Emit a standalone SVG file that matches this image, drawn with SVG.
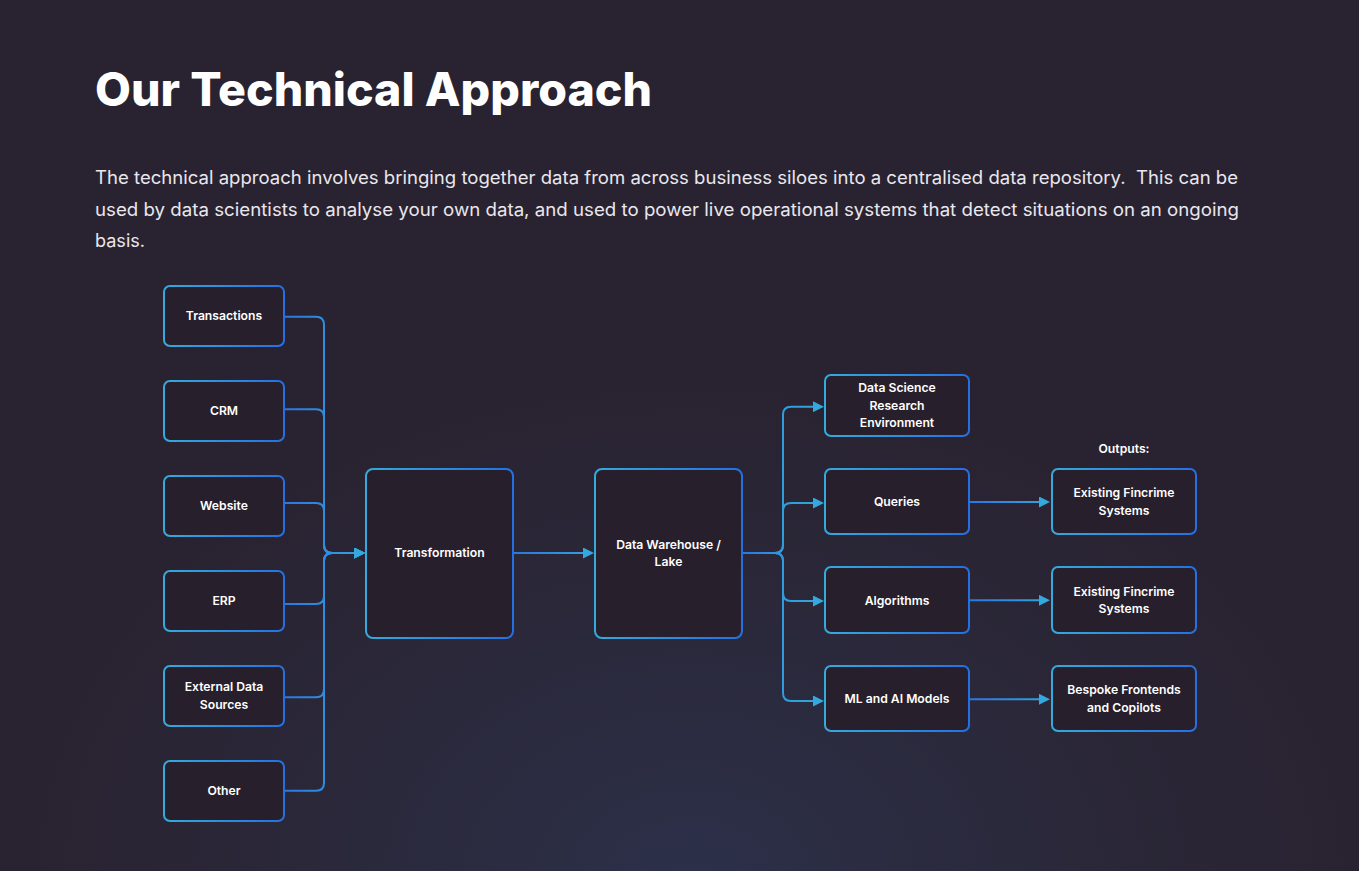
<svg xmlns="http://www.w3.org/2000/svg" width="1359" height="871" viewBox="0 0 1359 871">
<style>
.node rect{fill:#271f2c;stroke:url(#boxStroke);stroke-width:2}
.lbl{font-family:Inter,"Noto Sans","Liberation Sans",sans-serif;font-weight:600;font-size:12.2px;fill:#ffffff;text-anchor:middle}
.title{font-family:Inter,"Noto Sans","Liberation Sans",sans-serif;font-weight:800;font-size:46px;fill:#ffffff}
.para{font-family:Inter,"Noto Sans","Liberation Sans",sans-serif;font-weight:400;font-size:18px;fill:#e9e7ed;white-space:pre}
.conn path{fill:none;stroke-width:2;marker-end:url(#arrow)}
</style>
<defs>
<radialGradient id="bg" cx="690" cy="880" r="700" gradientUnits="userSpaceOnUse" gradientTransform="translate(690 880) scale(1 0.75) translate(-690 -880)">
<stop offset="0" stop-color="#2c3049"/>
<stop offset="0.6" stop-color="#2a2738"/>
<stop offset="1" stop-color="#292230"/>
</radialGradient>
<linearGradient id="boxStroke" x1="0" y1="0" x2="1" y2="0">
<stop offset="0" stop-color="#35aadc"/>
<stop offset="0.35" stop-color="#2f96dc"/>
<stop offset="1" stop-color="#2470e3"/>
</linearGradient>
<linearGradient id="gL" gradientUnits="userSpaceOnUse" x1="284" y1="0" x2="365" y2="0">
<stop offset="0" stop-color="#2a77e1"/><stop offset="1" stop-color="#33a4dc"/>
</linearGradient>
<linearGradient id="gM" gradientUnits="userSpaceOnUse" x1="513" y1="0" x2="595" y2="0">
<stop offset="0" stop-color="#2a77e1"/><stop offset="1" stop-color="#33a4dc"/>
</linearGradient>
<linearGradient id="gR" gradientUnits="userSpaceOnUse" x1="742" y1="0" x2="825" y2="0">
<stop offset="0" stop-color="#2a77e1"/><stop offset="0.5" stop-color="#309cdd"/><stop offset="1" stop-color="#33a6dc"/>
</linearGradient>
<linearGradient id="gO" gradientUnits="userSpaceOnUse" x1="969" y1="0" x2="1052" y2="0">
<stop offset="0" stop-color="#2a77e1"/><stop offset="1" stop-color="#33a6dc"/>
</linearGradient>
<marker id="arrow" viewBox="0 0 11 11" refX="3" refY="5.5" markerWidth="11" markerHeight="11" markerUnits="userSpaceOnUse" orient="auto">
<path d="M0,0 L11,5.5 L0,11 Z" fill="#35a8dd"/>
</marker>
</defs>
<rect x="0" y="0" width="1359" height="871" fill="url(#bg)"/>

<text class="title" x="95" y="106" textLength="557" lengthAdjust="spacingAndGlyphs">Our Technical Approach</text>
<text class="para" x="95" y="184" textLength="1143" lengthAdjust="spacingAndGlyphs">The technical approach involves bringing together data from across business siloes into a centralised data repository.  This can be</text>
<text class="para" x="95" y="215.5" textLength="1144" lengthAdjust="spacingAndGlyphs">used by data scientists to analyse your own data, and used to power live operational systems that detect situations on an ongoing</text>
<text class="para" x="95" y="247" textLength="50" lengthAdjust="spacingAndGlyphs">basis.</text>

<g id="connectors" class="conn">
<path stroke="url(#gL)" d="M284,316.7 H316 Q324,316.7 324,324.7 V545 Q324,553 332,553 H357"/>
<path stroke="url(#gL)" d="M284,409.3 H316 Q324,409.3 324,417.3 V545 Q324,553 332,553 H357"/>
<path stroke="url(#gL)" d="M284,503 H316 Q324,503 324,511 V545 Q324,553 332,553 H357"/>
<path stroke="url(#gL)" d="M284,604 H316 Q324,604 324,596 V561 Q324,553 332,553 H357"/>
<path stroke="url(#gL)" d="M284,697.3 H316 Q324,697.3 324,689.3 V561 Q324,553 332,553 H357"/>
<path stroke="url(#gL)" d="M284,790.7 H316 Q324,790.7 324,782.7 V561 Q324,553 332,553 H357"/>
<path stroke="url(#gM)" d="M513,553 H586"/>
<path stroke="url(#gR)" d="M742,553 H775 Q783,553 783,545 V414.7 Q783,406.7 791,406.7 H816"/>
<path stroke="url(#gR)" d="M742,553 H775 Q783,553 783,545 V511 Q783,503 791,503 H816"/>
<path stroke="url(#gR)" d="M742,553 H775 Q783,553 783,561 V593 Q783,601 791,601 H816"/>
<path stroke="url(#gR)" d="M742,553 H775 Q783,553 783,561 V693 Q783,701 791,701 H816"/>
<path stroke="url(#gO)" d="M969,502 H1042"/>
<path stroke="url(#gO)" d="M969,600.3 H1042"/>
<path stroke="url(#gO)" d="M969,699.3 H1042"/>
</g>

<g id="node-transactions" class="node"><rect x="164" y="286" width="120" height="60" rx="6"/><text class="lbl" x="224" y="320">Transactions</text></g>
<g id="node-crm" class="node"><rect x="164" y="381" width="120" height="60" rx="6"/><text class="lbl" x="224" y="415">CRM</text></g>
<g id="node-website" class="node"><rect x="164" y="476" width="120" height="60" rx="6"/><text class="lbl" x="224" y="510">Website</text></g>
<g id="node-erp" class="node"><rect x="164" y="571" width="120" height="60" rx="6"/><text class="lbl" x="224" y="605">ERP</text></g>
<g id="node-external" class="node"><rect x="164" y="666" width="120" height="60" rx="6"/><text class="lbl" x="224" y="691">External Data</text><text class="lbl" x="224" y="708.5">Sources</text></g>
<g id="node-other" class="node"><rect x="164" y="761" width="120" height="60" rx="6"/><text class="lbl" x="224" y="795">Other</text></g>
<g id="node-transformation" class="node"><rect x="366" y="469" width="147" height="169" rx="7"/><text class="lbl" x="439.5" y="557">Transformation</text></g>
<g id="node-warehouse" class="node"><rect x="595" y="469" width="147" height="169" rx="7"/><text class="lbl" x="668.5" y="548.5">Data Warehouse /</text><text class="lbl" x="668.5" y="566">Lake</text></g>
<g id="node-dsre" class="node"><rect x="825" y="375" width="144" height="61" rx="6"/><text class="lbl" x="897" y="392">Data Science</text><text class="lbl" x="897" y="409.5">Research</text><text class="lbl" x="897" y="427">Environment</text></g>
<g id="node-queries" class="node"><rect x="825" y="469" width="144" height="65" rx="6"/><text class="lbl" x="897" y="505.5">Queries</text></g>
<g id="node-algorithms" class="node"><rect x="825" y="567" width="144" height="66" rx="6"/><text class="lbl" x="897" y="604.5">Algorithms</text></g>
<g id="node-ml" class="node"><rect x="825" y="666" width="144" height="65" rx="6"/><text class="lbl" x="897" y="702.5">ML and AI Models</text></g>
<text id="outputs-label" class="lbl" x="1124" y="452.5">Outputs:</text>
<g id="node-out1" class="node"><rect x="1052" y="469" width="144" height="65" rx="6"/><text class="lbl" x="1124" y="497">Existing Fincrime</text><text class="lbl" x="1124" y="514.5">Systems</text></g>
<g id="node-out2" class="node"><rect x="1052" y="567" width="144" height="66" rx="6"/><text class="lbl" x="1124" y="595.5">Existing Fincrime</text><text class="lbl" x="1124" y="613">Systems</text></g>
<g id="node-out3" class="node"><rect x="1052" y="666" width="144" height="65" rx="6"/><text class="lbl" x="1124" y="694">Bespoke Frontends</text><text class="lbl" x="1124" y="711.5">and Copilots</text></g>
</svg>
